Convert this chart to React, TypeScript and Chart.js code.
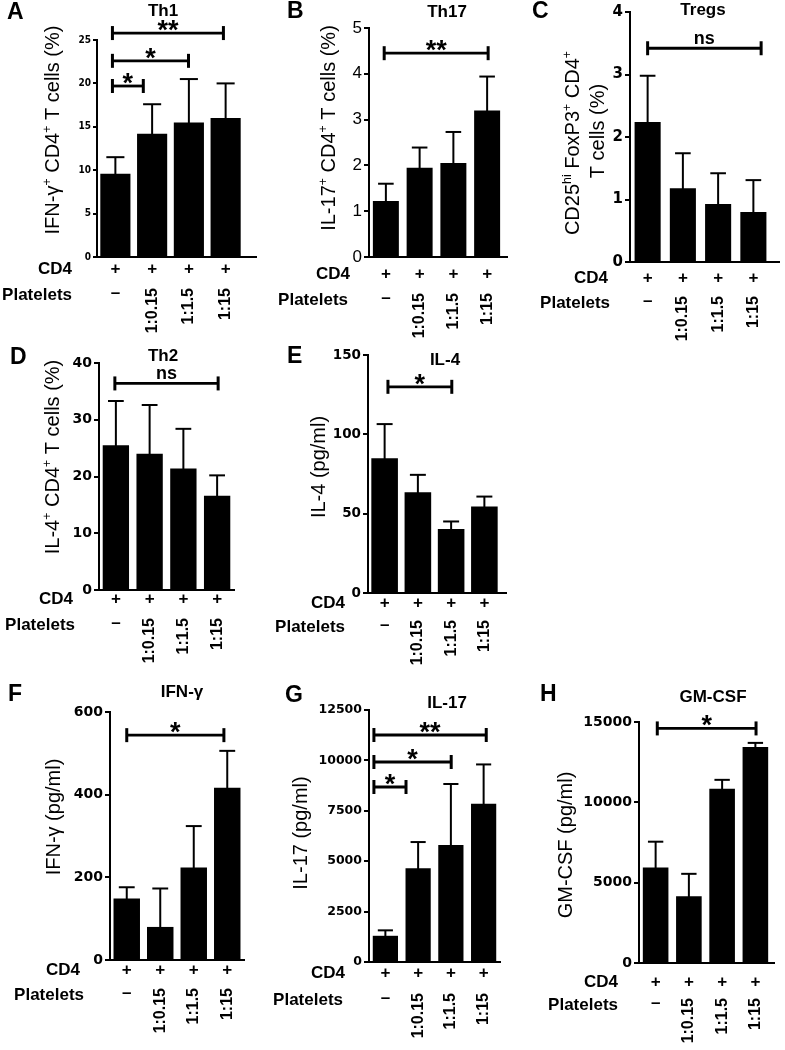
import React, { useEffect, useRef } from 'react';
import { Chart, registerables } from 'chart.js';

Chart.register(...registerables);

// ---------- data ----------
const PLATELETS = ['–', '1:0.15', '1:1.5', '1:15'];

const TH1_MEAN = [9.6, 14.2, 15.5, 16.0];
const TH1_ERR = [1.9, 3.4, 5.0, 4.0];
const TH1_SIG: [number, number, number, string][] = [[-0.08, 2.94, 25.8, '**'], [-0.08, 1.99, 22.6, '*'], [-0.08, 0.76, 19.7, '*']];
const TH1_TICKS = [0, 5, 10, 15, 20, 25];

const TH17_MEAN = [1.22, 1.95, 2.05, 3.2];
const TH17_ERR = [0.38, 0.44, 0.68, 0.74];
const TH17_SIG: [number, number, number, string][] = [[-0.05, 3.03, 4.45, '**']];
const TH17_TICKS = [0, 1, 2, 3, 4, 5];

const TREG_MEAN = [2.24, 1.18, 0.93, 0.8];
const TREG_ERR = [0.74, 0.56, 0.49, 0.51];
const TREG_SIG: [number, number, number, string][] = [[0.0, 3.22, 3.42, 'ns']];
const TREG_TICKS = [0, 1, 2, 3, 4];

const TH2_MEAN = [25.5, 24.0, 21.4, 16.6];
const TH2_ERR = [7.8, 8.6, 7.0, 3.6];
const TH2_SIG: [number, number, number, string][] = [[-0.03, 3.03, 36.4, 'ns']];
const TH2_TICKS = [0, 10, 20, 30, 40];

const IL4_MEAN = [85, 63.5, 40.3, 54.5];
const IL4_ERR = [21.5, 11, 4.8, 6.3];
const IL4_SIG: [number, number, number, string][] = [[0.1, 2.02, 130, '*']];
const IL4_TICKS = [0, 50, 100, 150];

const IFNG_MEAN = [149, 80, 224, 417];
const IFNG_ERR = [27, 93, 100, 89];
const IFNG_SIG: [number, number, number, string][] = [[0.0, 2.9, 544, '*']];
const IFNG_TICKS = [0, 200, 400, 600];

const IL17_MEAN = [1300, 4650, 5800, 7850];
const IL17_ERR = [270, 1300, 3030, 1950];
const IL17_SIG: [number, number, number, string][] = [[-0.35, 3.08, 11260, '**'], [-0.35, 2.01, 9920, '*'], [-0.35, 0.63, 8680, '*']];
const IL17_TICKS = [0, 2500, 5000, 7500, 10000, 12500];

const GMCSF_MEAN = [5950, 4150, 10850, 13450];
const GMCSF_ERR = [1600, 1400, 550, 250];
const GMCSF_SIG: [number, number, number, string][] = [[0.05, 3.02, 14600, '*']];
const GMCSF_TICKS = [0, 5000, 10000, 15000];

// ---------- styles ----------
const SANS = '"Liberation Sans", Arial, Helvetica, sans-serif';
const COND = '"DejaVu Sans Condensed", "Liberation Sans Narrow", "DejaVu Sans", sans-serif';
const WIDE = '"DejaVu Sans", "Liberation Sans", sans-serif';

type Seg = { t: string; sup?: boolean };
type Panel = {
  letter: string; title: string;
  labelLines: Seg[][]; labelPos: [number, number][];
  mean: number[]; err: number[]; sig: [number, number, number, string][]; ticks: number[];
  box: [number, number, number, number]; area: [number, number, number, number];
  axisEnd: number; barPct: number; tickFont: any; tickLen: number;
  letterPos: [number, number]; titlePos: [number, number];
  cd4: [number, number]; plat: [number, number];
};

const sup = (t: string): Seg => ({ t, sup: true });
const txt = (t: string): Seg => ({ t });

const PANELS: Panel[] = [
  {
    letter: 'A', title: 'Th1',
    labelLines: [[txt('IFN-γ'), sup('+'), txt(' CD4'), sup('+'), txt(' T cells (%)')]], labelPos: [[52, 130]],
    mean: TH1_MEAN, err: TH1_ERR, sig: TH1_SIG, ticks: TH1_TICKS,
    box: [0, 0, 262, 345], area: [97, 40, 244, 257], axisEnd: 257, barPct: 0.82,
    tickFont: { family: COND, size: 10, weight: 'bold' }, tickLen: 4,
    letterPos: [7, 13], titlePos: [163, 11], cd4: [72, 269], plat: [72, 295],
  },
  {
    letter: 'B', title: 'Th17',
    labelLines: [[txt('IL-17'), sup('+'), txt(' CD4'), sup('+'), txt(' T cells (%)')]], labelPos: [[328, 128]],
    mean: TH17_MEAN, err: TH17_ERR, sig: TH17_SIG, ticks: TH17_TICKS,
    box: [262, 0, 253, 345], area: [369, 28, 504, 257], axisEnd: 508, barPct: 0.77,
    tickFont: { family: SANS, size: 17, weight: 'normal' }, tickLen: 5,
    letterPos: [287, 12], titlePos: [447, 12], cd4: [350, 274], plat: [348, 300],
  },
  {
    letter: 'C', title: 'Tregs',
    labelLines: [[txt('CD25'), sup('hi'), txt(' FoxP3'), sup('+'), txt(' CD4'), sup('+')], [txt('T cells (%)')]],
    labelPos: [[572, 143], [597, 131]],
    mean: TREG_MEAN, err: TREG_ERR, sig: TREG_SIG, ticks: TREG_TICKS,
    box: [515, 0, 270, 345], area: [630, 12, 771, 262], axisEnd: 780, barPct: 0.74,
    tickFont: { family: WIDE, size: 15, weight: 'bold' }, tickLen: 5,
    letterPos: [532, 12], titlePos: [703, 10], cd4: [608, 278], plat: [610, 303],
  },
  {
    letter: 'D', title: 'Th2',
    labelLines: [[txt('IL-4'), sup('+'), txt(' CD4'), sup('+'), txt(' T cells (%)')]], labelPos: [[52, 457]],
    mean: TH2_MEAN, err: TH2_ERR, sig: TH2_SIG, ticks: TH2_TICKS,
    box: [0, 345, 262, 345], area: [99, 363, 234, 590], axisEnd: 234, barPct: 0.78,
    tickFont: { family: WIDE, size: 14, weight: 'bold' }, tickLen: 5,
    letterPos: [10, 358], titlePos: [163, 356], cd4: [73, 599], plat: [75, 625],
  },
  {
    letter: 'E', title: 'IL-4',
    labelLines: [[txt('IL-4 (pg/ml)')]], labelPos: [[318, 467]],
    mean: IL4_MEAN, err: IL4_ERR, sig: IL4_SIG, ticks: IL4_TICKS,
    box: [262, 345, 253, 345], area: [368, 355, 501, 593], axisEnd: 507, barPct: 0.8,
    tickFont: { family: WIDE, size: 13.5, weight: 'bold' }, tickLen: 5,
    letterPos: [287, 357], titlePos: [445, 360], cd4: [345, 603], plat: [345, 627],
  },
  {
    letter: 'F', title: 'IFN-γ',
    labelLines: [[txt('IFN-γ (pg/ml)')]], labelPos: [[53, 817]],
    mean: IFNG_MEAN, err: IFNG_ERR, sig: IFNG_SIG, ticks: IFNG_TICKS,
    box: [0, 680, 262, 370], area: [110, 712, 244, 960], axisEnd: 244, barPct: 0.79,
    tickFont: { family: WIDE, size: 14, weight: 'bold' }, tickLen: 5,
    letterPos: [8, 695], titlePos: [182, 692], cd4: [80, 970], plat: [84, 995],
  },
  {
    letter: 'G', title: 'IL-17',
    labelLines: [[txt('IL-17 (pg/ml)')]], labelPos: [[300, 833]],
    mean: IL17_MEAN, err: IL17_ERR, sig: IL17_SIG, ticks: IL17_TICKS,
    box: [262, 680, 253, 370], area: [369, 710, 500, 962], axisEnd: 500, barPct: 0.77,
    tickFont: { family: WIDE, size: 12.5, weight: 'bold' }, tickLen: 5,
    letterPos: [285, 696], titlePos: [447, 703], cd4: [345, 973], plat: [343, 1000],
  },
  {
    letter: 'H', title: 'GM-CSF',
    labelLines: [[txt('GM-CSF (pg/ml)')]], labelPos: [[565, 845]],
    mean: GMCSF_MEAN, err: GMCSF_ERR, sig: GMCSF_SIG, ticks: GMCSF_TICKS,
    box: [515, 680, 270, 370], area: [639, 722, 772, 963], axisEnd: 775, barPct: 0.77,
    tickFont: { family: WIDE, size: 14, weight: 'bold' }, tickLen: 5,
    letterPos: [540, 695], titlePos: [713, 697], cd4: [618, 982], plat: [618, 1005],
  },
];

function drawRotatedRich(ctx: CanvasRenderingContext2D, segs: Seg[], cx: number, cy: number, size: number) {
  const parts = segs.map((s) => {
    const fs = s.sup ? size * 0.62 : size;
    ctx.font = `${fs}px ${SANS}`;
    return { s, fs, w: ctx.measureText(s.t).width };
  });
  const total = parts.reduce((a, p) => a + p.w, 0);
  ctx.save();
  ctx.translate(cx, cy);
  ctx.rotate(-Math.PI / 2);
  ctx.textAlign = 'left';
  ctx.textBaseline = 'alphabetic';
  let x = -total / 2;
  const base = size * 0.36;
  for (const p of parts) {
    ctx.font = `${p.fs}px ${SANS}`;
    ctx.fillText(p.s.t, x, p.s.sup ? base - size * 0.42 : base);
    x += p.w;
  }
  ctx.restore();
}

function makeAnnot(p: Panel) {
  return {
    id: 'annot' + p.letter,
    afterDraw(chart: any) {
      const ctx: CanvasRenderingContext2D = chart.ctx;
      const [bx, by] = p.box;
      const X = (v: number) => v - bx;
      const Y = (v: number) => v - by;
      const xs = chart.scales.x;
      const ys = chart.scales.y;
      const ca = chart.chartArea;
      const line = (x1: number, y1: number, x2: number, y2: number) => {
        ctx.beginPath(); ctx.moveTo(x1, y1); ctx.lineTo(x2, y2); ctx.stroke();
      };
      ctx.save();
      ctx.strokeStyle = '#000';
      ctx.fillStyle = '#000';
      ctx.lineCap = 'butt';

      // x axis extension
      if (X(p.axisEnd) > ca.right) {
        ctx.lineWidth = 2;
        line(ca.right - 1, ca.bottom, X(p.axisEnd), ca.bottom);
      }

      // error bars (upper)
      const meta = chart.getDatasetMeta(0);
      meta.data.forEach((bar: any, i: number) => {
        const x = bar.x;
        const y0 = ys.getPixelForValue(p.mean[i]);
        const y1 = ys.getPixelForValue(p.mean[i] + p.err[i]);
        const w = bar.width * 0.6;
        ctx.lineWidth = 2;
        line(x, y0 + 1, x, y1);
        line(x - w / 2, y1, x + w / 2, y1);
      });

      // significance brackets
      p.sig.forEach(([a, c, v, lab]) => {
        const x1 = xs.getPixelForValue(a);
        const x2 = xs.getPixelForValue(c);
        const y = ys.getPixelForValue(v);
        ctx.lineWidth = 2.8;
        line(x1, y, x2, y);
        ctx.lineWidth = 3;
        line(x1, y - 7, x1, y + 7);
        line(x2, y - 7, x2, y + 7);
        ctx.textAlign = 'center';
        ctx.textBaseline = 'alphabetic';
        if (lab.includes('*')) {
          ctx.font = `bold 27px ${SANS}`;
          ctx.fillText(lab, (x1 + x2) / 2, y + 6);
        } else {
          ctx.font = `bold 18px ${SANS}`;
          ctx.fillText(lab, (x1 + x2) / 2, y - 4);
        }
      });

      // panel letter
      ctx.font = `bold 23px ${SANS}`;
      ctx.textAlign = 'left';
      ctx.textBaseline = 'middle';
      ctx.fillText(p.letter, X(p.letterPos[0]), Y(p.letterPos[1]));

      // title
      ctx.font = `bold 17px ${SANS}`;
      ctx.textAlign = 'center';
      ctx.fillText(p.title, X(p.titlePos[0]), Y(p.titlePos[1]));

      // y-axis label
      p.labelLines.forEach((segs, k) => {
        drawRotatedRich(ctx, segs, X(p.labelPos[k][0]), Y(p.labelPos[k][1]), 20);
      });

      // CD4 / Platelets rows
      ctx.font = `bold 17px ${SANS}`;
      ctx.textAlign = 'right';
      ctx.textBaseline = 'middle';
      ctx.fillText('CD4', X(p.cd4[0]), Y(p.cd4[1]));
      ctx.fillText('Platelets', X(p.plat[0]), Y(p.plat[1]));
      meta.data.forEach((bar: any, i: number) => {
        ctx.font = `bold 17px ${SANS}`;
        ctx.textAlign = 'center';
        ctx.textBaseline = 'middle';
        ctx.fillText('+', bar.x, Y(p.cd4[1]));
        if (i === 0) {
          ctx.fillText(PLATELETS[0], bar.x, Y(p.plat[1]) - 2);
        } else {
          ctx.save();
          ctx.translate(bar.x, Y(p.plat[1]) - 7);
          ctx.rotate(-Math.PI / 2);
          ctx.font = `bold 16px ${SANS}`;
          ctx.textAlign = 'right';
          ctx.textBaseline = 'middle';
          ctx.fillText(PLATELETS[i], 0, 0);
          ctx.restore();
        }
      });
      ctx.restore();
    },
  };
}

function PanelChart({ p }: { p: Panel }) {
  const ref = useRef<HTMLCanvasElement>(null);
  useEffect(() => {
    const [bx, by, bw, bh] = p.box;
    const [l, t, r, b] = p.area;
    const yMax = p.ticks[p.ticks.length - 1];
    const step = p.ticks[1] - p.ticks[0];
    const chart = new Chart(ref.current as HTMLCanvasElement, {
      type: 'bar',
      data: {
        labels: PLATELETS,
        datasets: [{
          data: p.mean,
          backgroundColor: '#000',
          borderWidth: 0,
          categoryPercentage: 1,
          barPercentage: p.barPct,
        }],
      },
      options: {
        responsive: false,
        animation: false,
        devicePixelRatio: 1,
        layout: { padding: { left: 0, top: t - by, right: bx + bw - r, bottom: 0 } },
        plugins: { legend: { display: false }, tooltip: { enabled: false }, title: { display: false } },
        scales: {
          x: {
            ticks: { display: false },
            grid: { display: false },
            border: { display: true, color: '#000', width: 2 },
            afterFit: (s: any) => { s.height = by + bh - b; },
          },
          y: {
            min: 0,
            max: yMax,
            ticks: {
              stepSize: step,
              color: '#000',
              font: p.tickFont,
              padding: 2,
              callback: (v: any) => String(v),
            },
            grid: { drawOnChartArea: false, drawTicks: true, color: '#000', lineWidth: 2, tickLength: p.tickLen },
            border: { display: true, color: '#000', width: 2 },
            afterFit: (s: any) => { s.width = l - bx; },
          },
        },
      } as any,
      plugins: [makeAnnot(p)],
    });
    return () => chart.destroy();
  }, []);
  const [bx, by, bw, bh] = p.box;
  return (
    <canvas
      ref={ref}
      width={bw}
      height={bh}
      style={{ position: 'absolute', left: bx, top: by, width: bw, height: bh }}
    />
  );
}

export default function App() {
  return (
    <div style={{ position: 'absolute', left: 0, top: 0, width: 785, height: 1050, background: '#fff', overflow: 'hidden' }}>
      {PANELS.map((p) => <PanelChart key={p.letter} p={p} />)}
    </div>
  );
}
